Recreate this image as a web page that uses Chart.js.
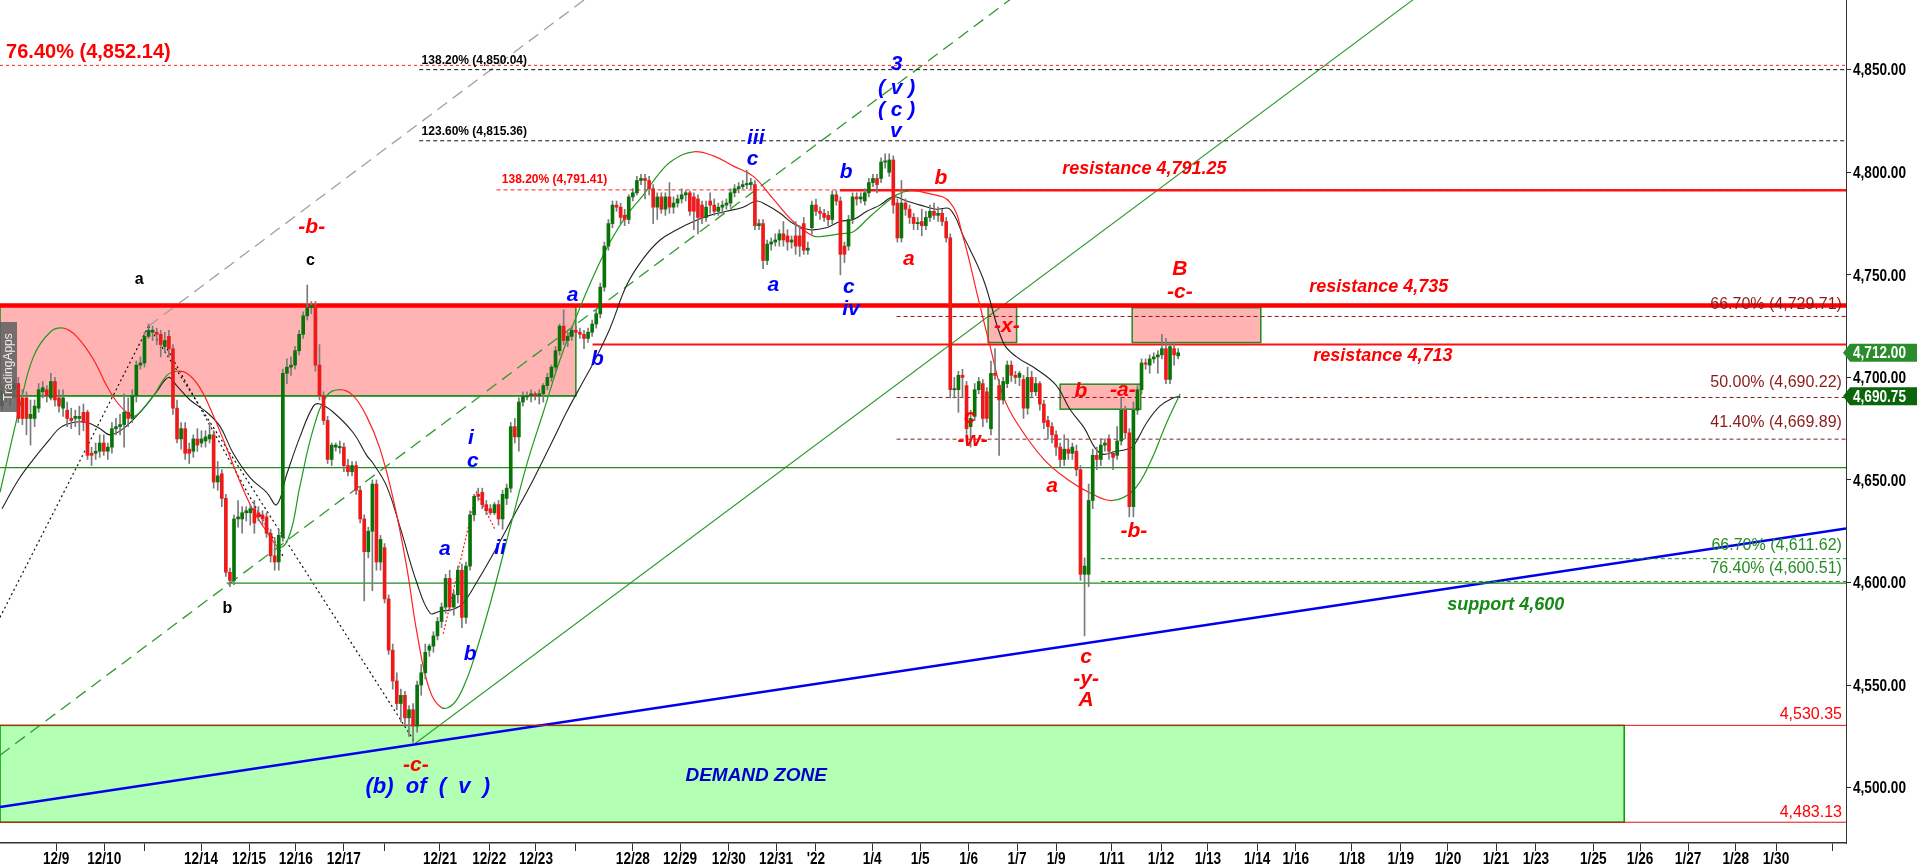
<!DOCTYPE html>
<html>
<head>
<meta charset="utf-8">
<script src="https://cdn.jsdelivr.net/npm/chart.js@4.4.1/dist/chart.umd.min.js"></script>
<style>
html, body { margin: 0; padding: 0; background: #fff; }
#wrap { width: 1917px; height: 864px; position: relative; }
</style>
</head>
<body>
<div id="wrap"><canvas id="chart"></canvas></div>
<script>
// ES 2h bars, index 0 = first bar at the left edge
const opens = [
 4686,4693,4691,4694,4697,4690,4690,4680,4680,4685, 4693,4694,4690,4698,4690,4685,4684,4680,4680,4680,
 4683,4683,4663,4663,4664,4668,4664,4666,4675,4676, 4677,4683,4680,4691,4706,4707,4720,4722,4722,4721,
 4715,4720,4714,4685,4670,4675,4665,4664,4670,4668, 4669,4670,4672,4649,4653,4641,4605,4601,4631,4631,
 4634,4634,4636,4634,4633,4632,4624,4613,4610,4622, 4702,4705,4706,4713,4721,4730,4734,4735,4706,4691,
 4679,4660,4666,4666,4666,4657,4654,4657,4645,4631, 4615,4625,4648,4610,4617,4592,4567,4552,4541,4545,
 4534,4538,4530,4550,4556,4567,4569,4574,4581,4588, 4602,4588,4594,4606,4583,4608,4633,4643,4644,4638,
 4636,4634,4638,4631,4641,4646,4676,4671,4688,4690.5, 4691,4692,4691,4692,4696,4700,4705,4713,4725,4718,
 4720,4723,4722,4721,4719,4722,4726,4731,4744,4764, 4775,4784,4783,4779,4777,4788,4790,4796,4797,4796,
 4792,4783,4788,4782,4788,4783,4785,4787,4789,4790, 4788,4787,4784,4778,4786,4784,4781,4783,4784,4785,
 4790,4792,4793,4794,4794,4794,4774,4775,4757,4765, 4766,4767,4770,4769,4766,4769,4769,4775,4762,4773,
 4784,4781,4780,4779,4777,4789,4786,4764,4764,4777, 4788,4787,4786,4790,4795,4797,4797,4805,4800,4806,
 4785,4768,4785,4782,4778,4775,4776,4774,4778,4781, 4779,4780,4776,4768,4694,4694,4701,4696,4676,4681,
 4694,4697,4693,4675,4702,4696,4689,4697,4706,4701, 4700,4699,4685,4700,4693,4697,4687,4679,4676,4672,
 4666,4660,4665,4663,4664,4655,4604,4604,4640,4662, 4660,4667,4670,4663,4662,4669,4684,4673,4637,4684,
 4694,4707,4706,4709,4710,4711,4714,4699,4714,4710.5
];
const highs = [
 4696,4698,4696,4699,4700,4694,4693,4689,4689,4697, 4698,4696,4702,4700,4694,4694,4688,4685,4684,4686,
 4687,4684,4666,4668,4672,4672,4668,4678,4680,4682, 4692,4690,4694,4708,4710,4722,4726,4725,4724,4723,
 4722,4723,4716,4689,4678,4678,4668,4672,4675,4674, 4674,4678,4674,4659,4655,4643,4607,4633,4640,4637,
 4637,4638,4640,4637,4635,4634,4626,4622,4626,4704, 4709,4710,4715,4723,4732,4745,4737,4737,4716,4693,
 4681,4668,4668,4669,4668,4660,4659,4659,4647,4633, 4627,4650,4650,4623,4619,4594,4570,4556,4548,4547,
 4540,4541,4552,4560,4570,4570,4576,4583,4590,4604, 4606,4596,4608,4609,4610,4635,4643,4646,4646,4640,
 4638,4639,4640,4645,4648,4678,4680,4690,4693,4693, 4694,4693,4694,4697,4702,4706,4715,4726,4733,4722,
 4725,4725,4724,4723,4724,4728,4733,4746,4766,4777, 4786,4786,4785,4782,4789,4792,4798,4799,4799,4798,
 4794,4790,4790,4790,4795,4788,4789,4792,4791,4791, 4790,4789,4786,4786,4790,4787,4785,4786,4787,4792,
 4794,4795,4796,4801,4797,4796,4777,4777,4767,4768, 4770,4772,4776,4772,4769,4776,4774,4778,4766,4786,
 4787,4783,4782,4781,4791,4791,4788,4766,4779,4790, 4790,4790,4792,4797,4799,4799,4807,4809,4809,4808,
 4787,4796,4787,4784,4780,4778,4782,4781,4784,4785, 4783,4782,4778,4770,4700,4703,4704,4698,4684,4697,
 4700,4699,4695,4708,4714,4699,4700,4708,4708,4703, 4703,4701,4705,4703,4700,4698,4689,4681,4678,4674,
 4668,4672,4670,4668,4667,4657,4612,4648,4665,4666, 4670,4670,4672,4664,4676,4690,4686,4675,4688,4696,
 4709,4709,4711,4712,4713,4721,4719,4717,4717,4714
];
const lows = [
 4684,4688,4686,4690,4678,4677,4672,4667,4676,4683, 4690,4688,4689,4686,4683,4681,4676,4675,4676,4672,
 4674,4660,4657,4660,4661,4662,4660,4663,4672,4672, 4666,4676,4678,4688,4704,4705,4719,4718,4716,4710,
 4712,4710,4682,4668,4665,4660,4658,4661,4664,4666, 4666,4668,4646,4645,4637,4603,4598,4599,4627,4624,
 4630,4628,4624,4630,4628,4622,4610,4606,4606,4620, 4697,4701,4704,4711,4719,4728,4731,4703,4689,4677,
 4658,4657,4664,4663,4654,4652,4652,4643,4629,4591, 4612,4596,4606,4606,4590,4565,4548,4538,4532,4530,
 4525,4522,4527,4545,4553,4564,4566,4572,4578,4585, 4586,4584,4590,4578,4580,4606,4630,4640,4636,4633,
 4633,4633,4628,4626,4638,4644,4668,4664,4686,4689, 4688,4689,4687,4688,4694,4698,4703,4711,4716,4715,
 4718,4720,4719,4714,4717,4720,4724,4729,4742,4762, 4773,4781,4775,4774,4775,4786,4789,4794,4787,4789,
 4775,4777,4780,4779,4780,4780,4783,4785,4786,4779, 4772,4770,4775,4776,4780,4779,4779,4780,4782,4783,
 4788,4790,4792,4792,4792,4772,4772,4753,4755,4762, 4764,4764,4764,4762,4763,4760,4759,4760,4760,4770,
 4779,4777,4776,4774,4775,4784,4750,4756,4762,4775, 4784,4785,4784,4788,4793,4790,4795,4802,4798,4780,
 4766,4766,4779,4775,4772,4772,4769,4772,4776,4777, 4776,4774,4766,4690,4690,4683,4690,4668,4666,4679,
 4692,4676,4678,4672,4699,4662,4687,4695,4698,4697, 4696,4680,4682,4690,4691,4684,4675,4670,4668,4662,
 4656,4657,4660,4660,4652,4601,4574,4598,4636,4655, 4657,4664,4660,4655,4660,4667,4670,4632,4632,4682,
 4692,4704,4702,4707,4702,4709,4697,4697,4706,4709
];
const closes = [
 4693,4691,4694,4697,4680,4680,4680,4682,4686,4694, 4695,4691,4698,4689,4686,4690,4680,4679,4681,4681,
 4678,4662,4662,4664,4668,4664,4666,4675,4676,4677, 4683,4680,4691,4706,4707,4720,4723,4723,4721,4716,
 4718,4714,4685,4670,4675,4663,4663,4670,4667,4670, 4671,4672,4649,4652,4641,4605,4601,4631,4632,4634,
 4635,4636,4629,4632,4631,4624,4613,4610,4623,4702, 4705,4706,4713,4721,4730,4734,4735,4706,4691,4679,
 4660,4667,4667,4666,4657,4654,4657,4645,4631,4615, 4625,4648,4610,4621,4592,4567,4552,4541,4545,4534,
 4538,4530,4550,4556,4566,4569,4574,4581,4588,4602, 4588,4594,4606,4583,4608,4633,4642,4642,4638,4635,
 4634,4638,4631,4643,4646,4676,4671,4688,4691,4691, 4692,4691,4692,4696,4700,4705,4713,4725,4718,4720,
 4723,4722,4721,4719,4722,4726,4731,4744,4764,4775, 4784,4783,4778,4777,4788,4790,4796,4797,4796,4792,
 4783,4788,4782,4788,4783,4785,4787,4789,4790,4781, 4781,4778,4778,4783,4784,4781,4783,4784,4785,4790,
 4792,4793,4794,4794.5,4795,4774,4775,4757,4765,4766, 4767,4770,4767,4766,4767,4764,4764,4762,4763,4784,
 4781,4780,4778,4777,4789,4786,4760,4760,4777,4788, 4787,4788,4790,4795,4797,4794,4805,4805.5,4806,4784,
 4768,4785,4782,4778,4775,4775.5,4774,4778,4781,4779, 4780,4776,4768,4694,4694.5,4701,4700,4675,4680,4694,
 4698,4680,4680,4702,4701,4689,4698,4706,4701,4700, 4702,4685,4700,4693,4697,4687,4678,4676,4672,4666,
 4660,4665,4663,4666,4655,4604,4608,4640,4662,4660, 4667,4668,4664,4661,4669,4684,4673,4637,4684,4694,
 4707,4706.5,4709,4710,4711,4714,4699,4715,4711,4712
];

// date ticks (bar index) and their labels
const tickPos = [13.3,25.1,35.1,48.9,60.7,72.2,84.0,94.1,107.6,119.7,131.2,141.0,155.0,166.6,178.6,190.2,
  200.0,213.8,225.6,237.5,249.4,259.0,272.7,284.8,296.3,308.4,317.9,331.7,343.7,355.3,367.1,376.9,391.0,
  402.5,414.3,426.0,435.9,449.9];
const tickLabels = ['12/9','12/10','','12/14','12/15','12/16','12/17','','12/21','12/22','12/23','','12/28',
  '12/29','12/30','12/31',"'22",'1/4','1/5','1/6','1/7','1/9','1/11','1/12','1/13','1/14','1/16','1/18',
  '1/19','1/20','1/21','1/23','1/25','1/26','1/27','1/28','1/30',''];
const priceTicks = [4500,4550,4600,4650,4700,4750,4800,4850];

// moving averages: [bar index, price]
const maColor = [[-0.5,4644],[4.4,4686],[7.7,4710],[11.8,4722],[15.1,4724],[18.3,4720],[22.4,4709],[25.7,4696],
  [28.2,4688],[30.6,4683],[32.3,4681],[33.9,4683],[37.2,4691],[40.5,4701],[42.9,4703],[45.4,4702],[48.6,4695],
  [52,4681],[55.5,4664],[58.5,4649],[61.5,4636],[65,4625],[68.3,4617],[70.8,4624],[73.2,4647],[76.5,4675],
  [79.8,4691],[83,4694],[86.3,4691],[89.6,4681],[92.9,4665],[96.2,4640],[99.4,4608],[102,4575],[105,4548],
  [108,4539],[111,4541],[114,4552],[116.6,4567],[120,4590],[125,4628],[129,4658],[133,4683],[137,4708],
  [141.2,4730],[145,4748],[149.4,4766],[153.5,4779],[157.6,4789],[161.7,4800],[164.9,4806],[169.9,4810],
  [174.8,4808],[179.7,4803],[184.6,4798],[189.5,4787],[194.4,4776],[199.3,4769],[202.6,4769],[205.9,4770],
  [209.2,4771],[212.5,4777],[216.5,4784],[219.8,4789],[223.1,4791],[227,4790],[232.9,4785.5],[236.2,4768],
  [239.5,4741.5],[242.8,4715],[246,4691],[249.3,4678],[256,4660],[262,4650],[268,4643],[273,4640],[278,4645],
  [282,4658],[286.2,4678],[289.5,4692]];
const maBlack = [[0,4636],[4,4650],[7.7,4660],[11.8,4670],[14.3,4675.5],[17.5,4678],[20.8,4678],[24.1,4675],
  [26.5,4672],[29.8,4675],[33.9,4683],[38,4693],[40.9,4700],[42.9,4696],[46.2,4689],[50.3,4683],[53.6,4676],
  [56.8,4663],[61,4651],[65,4644],[67.5,4638],[70,4653],[73.2,4671],[76.5,4686],[78.1,4687],[81.4,4683],
  [86.3,4673],[89.6,4662],[91.2,4658],[94.5,4647],[97.8,4627],[101.9,4600],[105.2,4585],[107.6,4586],
  [110.9,4587],[113.3,4590],[116.6,4600],[120.7,4614],[125.6,4632],[130.5,4650],[135.5,4670],[138.7,4683],
  [142.8,4698],[145.3,4707],[149.4,4724],[153.5,4745],[157.6,4758],[161.7,4767],[165.8,4772],[169.9,4776],
  [173.9,4779],[178,4781],[182.1,4783],[185.4,4786],[187.9,4784],[191.2,4780],[194.4,4775],[198.5,4772],
  [202.6,4773],[205.9,4776],[209.2,4777],[212.5,4781],[215.7,4784],[219,4788],[222.3,4786],[225.6,4784],
  [229.6,4782],[232.9,4782],[236.2,4769],[241.1,4748],[246,4717],[249.3,4710],[254.2,4704],[259.1,4696],
  [262.4,4684.5],[265.7,4676],[269.8,4663],[273.9,4664],[276.4,4665],[278,4666.5],[281.3,4678],[284.5,4686],
  [287.8,4690],[289.5,4690.75]];

const X_MIN = -0.5, X_MAX = 453.1, Y_MIN = 4473, Y_MAX = 4884;

// horizontal levels: [price, from bar, to bar, style]
const levels = [
  [4852.14, X_MIN, X_MAX, 'redDot'],
  [4850.04, 102.5, X_MAX, 'blackDash'],
  [4815.36, 102.5, X_MAX, 'blackDash'],
  [4791.41, 121.5, X_MAX, 'redDash'],
  [4791.25, 205.9, X_MAX, 'redSolid'],
  [4735, X_MIN, X_MAX, 'redThick'],
  [4729.71, 219.8, X_MAX, 'maroonDash'],
  [4716, 145.1, X_MAX, 'redMid'],
  [4690.22, 219.8, X_MAX, 'maroonDash'],
  [4669.89, 219.8, X_MAX, 'maroonDash'],
  [4691, X_MIN, 141, 'greenSolid'],
  [4656, X_MIN, X_MAX, 'greenSolid'],
  [4611.62, 270, X_MAX, 'greenDash'],
  [4600.51, 270, X_MAX, 'greenDash'],
  [4599.7, 55.2, X_MAX, 'greenSolid'],
  [4530.35, X_MIN, X_MAX, 'redThin'],
  [4483.13, X_MIN, X_MAX, 'redThin']
];
// trend lines: [[bar, price], ...], style
const trends = [
  [[[-0.5, 4490.5], [453.1, 4626.3]], 'blue'],
  [[[-0.5, 4515.8], [250, 4887.6]], 'greenLong'],
  [[[36, 4725], [150, 4894.4]], 'grayLong'],
  [[[101.5, 4521.5], [350, 4889]], 'channel'],
  [[[-0.5, 4583], [36, 4725]], 'blackDot'],
  [[[36, 4725], [101.5, 4522]], 'blackDot'],
  [[[40, 4716], [69, 4613]], 'blackDot'],
  [[[108.4, 4575], [116.6, 4644], [121.1, 4626]], 'redDotted']
];
// boxes: [from bar, to bar, top price, bottom price, style]
const zones = [
  [X_MIN, 398.6, 4530.35, 4483.13, 'demand'],
  [X_MIN, 141, 4735, 4691, 'pink'],
  [242.3, 249.3, 4734.2, 4717, 'pink'],
  [260, 279.8, 4696.7, 4684.5, 'pink'],
  [277.7, 309.3, 4734, 4717, 'pink']
];
// wave labels: [text, bar, price, style]
const waveLabels = [
  ['a', 33.7, 4747.6, 'blk'], ['c', 75.8, 4756.8, 'blk'], ['b', 55.4, 4587.5, 'blk'],
  ['-b-', 76.1, 4773.3, 'red'], ['-c-', 101.7, 4510.9, 'red'], ['(b)  of  (  v  )', 104.6, 4500.1, 'blueWide'],
  ['i', 115.2, 4670.6, 'blue'], ['c', 115.7, 4659.2, 'blue'], ['a', 108.8, 4616, 'blue'],
  ['b', 115, 4564.9, 'blue'], ['ii', 122.4, 4616.8, 'blue'], ['a', 140.2, 4739.9, 'blue'],
  ['b', 146.3, 4708.9, 'blue'], ['iii', 185.2, 4816.8, 'blue'], ['c', 184.4, 4806.2, 'blue'],
  ['a', 189.5, 4744.8, 'blue'], ['b', 207.4, 4799.9, 'blue'], ['c', 208.1, 4744, 'blue'],
  ['iv', 208.6, 4733.4, 'blue'], ['3', 219.8, 4852.7, 'blue'], ['( v )', 219.8, 4840.9, 'blue'],
  ['( c )', 219.8, 4830.4, 'blue'], ['v', 219.6, 4820.2, 'blue'],
  ['b', 230.7, 4797.3, 'red'], ['a', 222.8, 4757.5, 'red'], ['c', 237.8, 4680.4, 'red'],
  ['-w-', 238.5, 4669.6, 'red'], ['-x-', 246.9, 4725.2, 'red'], ['a', 258, 4646.8, 'red'],
  ['b', 265.1, 4693.4, 'red'], ['-a-', 275.4, 4693.9, 'red'], ['-b-', 278.1, 4624.8, 'red'],
  ['c', 266.4, 4563.7, 'red'], ['-y-', 266.4, 4552.9, 'red'], ['A', 266.4, 4542.7, 'red'],
  ['B', 289.4, 4752.6, 'red'], ['-c-', 289.4, 4741.7, 'red'],
  ['resistance 4,791.25', 280.7, 4801.8, 'res'], ['resistance 4,735', 338.3, 4744.1, 'res'],
  ['resistance 4,713', 339.3, 4710.5, 'res'], ['support 4,600', 369.5, 4589.1, 'sup'],
  ['DEMAND ZONE', 185.3, 4505.7, 'dz']
];
// level captions: [text, bar, price, align, style]
const levelLabels = [
  ['76.40% (4,852.14)', 1.0, 4858.6, 'left', 'fibBig'],
  ['138.20% (4,850.04)', 103.1, 4854.4, 'left', 'fibBlack'],
  ['123.60% (4,815.36)', 103.1, 4819.8, 'left', 'fibBlack'],
  ['138.20% (4,791.41)', 122.8, 4796.6, 'left', 'fibRed'],
  ['66.70% (4,729.71)', 452.1, 4735.6, 'right', 'fibMaroon'],
  ['50.00% (4,690.22)', 452.1, 4697.7, 'right', 'fibMaroon'],
  ['41.40% (4,669.89)', 452.1, 4678.1, 'right', 'fibMaroon'],
  ['66.70% (4,611.62)', 452.1, 4618.0, 'right', 'fibGreen'],
  ['76.40% (4,600.51)', 452.1, 4606.7, 'right', 'fibGreen'],
  ['4,530.35', 452.1, 4535.5, 'right', 'fibRedMid'],
  ['4,483.13', 452.1, 4487.9, 'right', 'fibRedMid']
];
// last price / MA value tags on the axis
const priceTags = [[4712.00, '#2b8c2b'], [4690.75, '#0b650b']];

const FONT = '"Liberation Sans", Arial, sans-serif';
Chart.defaults.font.family = FONT;
Chart.defaults.color = '#000';

const lineStyles = {
  redDot: ['#ff2020', 1, [3, 3]],
  blackDash: ['#111', 1, [4, 3]],
  redDash: ['#ff2020', 1, [4, 3]],
  redSolid: ['#ff1010', 2.5, []],
  redThick: ['#ff0000', 4.5, []],
  redMid: ['#ff1010', 2, []],
  maroonDash: ['#8b1a1a', 1, [4, 3]],
  greenSolid: ['#1e8c1e', 1.2, []],
  greenDash: ['#1e8c1e', 1, [4, 3]],
  redThin: ['#e01010', 1, []],
  blue: ['#0000ee', 2.5, []],
  greenLong: ['#2e9a2e', 1.3, [12, 7]],
  grayLong: ['#a0a0a0', 1.3, [12, 7]],
  channel: ['#2e9a2e', 1.1, []],
  blackDot: ['#111', 1.2, [2, 3]],
  redDotted: ['#ff2020', 1.2, [2, 2]]
};
const zoneStyles = { demand: ['#b3ffb3', '#009a00'], pink: ['#ffb3b3', '#1e8c1e'] };
const textStyles = {
  blk: ['bold 16px ' + FONT, '#000'],
  red: ['italic bold 21px ' + FONT, '#ff0000'],
  blue: ['italic bold 21px ' + FONT, '#0000ff'],
  blueWide: ['italic bold 22px ' + FONT, '#0000ff'],
  res: ['italic bold 18px ' + FONT, '#ff0000'],
  sup: ['italic bold 18px ' + FONT, '#148a14'],
  dz: ['italic bold 19px ' + FONT, '#0000cc'],
  fibBig: ['bold 20px ' + FONT, '#ff0000'],
  fibBlack: ['bold 12px ' + FONT, '#000'],
  fibRed: ['bold 12px ' + FONT, '#ff0000'],
  fibMaroon: ['16px ' + FONT, '#8b1a1a'],
  fibGreen: ['16px ' + FONT, '#238c23'],
  fibRedMid: ['16px ' + FONT, '#ff0000']
};

function lineSet(points, style, order) {
  const [color, width, dash] = lineStyles[style];
  return {
    type: 'line', data: points.map(([x, y]) => ({ x, y })), borderColor: color, borderWidth: width,
    borderDash: dash, pointRadius: 0, tension: 0, order: order
  };
}

// bold axis text squeezed horizontally, like the narrow face of the original
function squeezedText(ctx, text, x, y, size, sx, align, baseline, color) {
  ctx.save();
  ctx.translate(x, y); ctx.scale(sx, 1);
  ctx.font = 'bold ' + size + 'px ' + FONT; ctx.fillStyle = color;
  ctx.textAlign = align; ctx.textBaseline = baseline;
  ctx.fillText(text, 0, 0);
  ctx.restore();
}
const fmt = v => v.toLocaleString('en-US', { minimumFractionDigits: 2, maximumFractionDigits: 2 });

const idx = closes.map((_, i) => i);
const wickData = idx.map(i => ({ x: i, y: [lows[i], highs[i]] }));
const bodyData = idx.map(i => {
  let lo = Math.min(opens[i], closes[i]), hi = Math.max(opens[i], closes[i]);
  if (hi - lo < 0.6) { const m = (hi + lo) / 2; lo = m - 0.3; hi = m + 0.3; }
  return { x: i, y: [lo, hi] };
});
const candleColor = ctx => closes[ctx.dataIndex] >= opens[ctx.dataIndex] ? '#087408' : '#ee1a1a';

const datasets = [
  { type: 'bar', data: bodyData, backgroundColor: candleColor, barThickness: 3, grouped: false, borderWidth: 0, order: 0 },
  { type: 'bar', data: wickData, backgroundColor: '#7a7a7a', barThickness: 1, grouped: false, borderWidth: 0, order: 1 },
  {
    type: 'line', data: maColor.map(([x, y]) => ({ x, y })), borderWidth: 1.2, pointRadius: 0, tension: 0.4,
    borderColor: '#ff2020',
    segment: { borderColor: c => c.p1.parsed.y >= c.p0.parsed.y ? '#1f9a1f' : '#ff2020' }, order: 2
  },
  { type: 'line', data: maBlack.map(([x, y]) => ({ x, y })), borderColor: '#222', borderWidth: 1.1, pointRadius: 0, tension: 0.4, order: 2 }
];
levels.forEach(([v, x0, x1, st]) => datasets.push(lineSet([[x0, v], [x1, v]], st, 3)));
trends.forEach(([pts, st]) => datasets.push(lineSet(pts, st, 3)));

const zonePlugin = {
  id: 'zones',
  beforeDatasetsDraw(chart) {
    const { ctx, chartArea: a, scales: { x, y } } = chart;
    ctx.save();
    ctx.beginPath(); ctx.rect(a.left, a.top, a.width, a.height); ctx.clip();
    zones.forEach(([x0, x1, top, bot, st]) => {
      const [fill, stroke] = zoneStyles[st];
      const px0 = x.getPixelForValue(x0), px1 = x.getPixelForValue(x1);
      const py0 = y.getPixelForValue(top), py1 = y.getPixelForValue(bot);
      ctx.fillStyle = fill; ctx.fillRect(px0, py0, px1 - px0, py1 - py0);
      ctx.strokeStyle = stroke; ctx.lineWidth = 1.5; ctx.strokeRect(px0, py0, px1 - px0, py1 - py0);
    });
    ctx.restore();
  }
};

const textPlugin = {
  id: 'notes',
  afterDatasetsDraw(chart) {
    const { ctx, scales: { x, y } } = chart;
    ctx.save();
    ctx.textBaseline = 'middle';
    waveLabels.forEach(([t, xi, v, st]) => {
      ctx.font = textStyles[st][0]; ctx.fillStyle = textStyles[st][1]; ctx.textAlign = 'center';
      ctx.fillText(t, x.getPixelForValue(xi), y.getPixelForValue(v));
    });
    levelLabels.forEach(([t, xi, v, al, st]) => {
      ctx.font = textStyles[st][0]; ctx.fillStyle = textStyles[st][1]; ctx.textAlign = al;
      ctx.fillText(t, x.getPixelForValue(xi), y.getPixelForValue(v));
    });
    ctx.restore();
  },
  afterDraw(chart) {
    const { ctx, chartArea: a, scales: { x, y } } = chart;
    // axis labels
    priceTicks.forEach(v => squeezedText(ctx, fmt(v), a.right + 7, y.getPixelForValue(v) + 1, 17, 0.8, 'left', 'middle', '#000'));
    tickPos.forEach((p, i) => {
      if (tickLabels[i]) squeezedText(ctx, tickLabels[i], x.getPixelForValue(p), a.bottom + 9, 16, 0.85, 'center', 'top', '#000');
    });
    ctx.save();
    // price tags on the right axis
    priceTags.forEach(([v, col]) => {
      const py = y.getPixelForValue(v), l = a.right - 3;
      ctx.beginPath();
      ctx.moveTo(l, py); ctx.lineTo(l + 7, py - 9); ctx.lineTo(chart.width, py - 9);
      ctx.lineTo(chart.width, py + 9); ctx.lineTo(l + 7, py + 9); ctx.closePath();
      ctx.fillStyle = col; ctx.fill();
      squeezedText(ctx, fmt(v), a.right + 7, py + 1, 17, 0.8, 'left', 'middle', '#fff');
    });
    // watermark tab
    ctx.fillStyle = 'rgba(95,95,95,0.85)';
    ctx.fillRect(0, 322, 17, 90);
    ctx.translate(9, 367); ctx.rotate(-Math.PI / 2);
    ctx.font = '12px ' + FONT; ctx.fillStyle = '#eee'; ctx.textAlign = 'center'; ctx.textBaseline = 'middle';
    ctx.fillText('TradingApps', 0, 0);
    ctx.restore();
  }
};

new Chart(document.getElementById('chart'), {
  type: 'bar',
  data: { datasets },
  options: {
    responsive: true, maintainAspectRatio: false, animation: false, events: [],
    layout: { padding: 0 },
    plugins: { legend: { display: false }, tooltip: { enabled: false } },
    scales: {
      x: {
        type: 'linear', min: X_MIN, max: X_MAX, offset: false,
        grid: { display: true, drawOnChartArea: false, drawTicks: true, tickLength: 8, color: '#333', offset: false },
        border: { display: true, color: '#333', width: 1.5 },
        afterBuildTicks: s => { s.ticks = tickPos.map(v => ({ value: v })); },
        ticks: { display: false, autoSkip: false, maxRotation: 0 },
        afterFit: s => { s.height = 21; s.paddingLeft = 0; s.paddingRight = 0; }
      },
      y: {
        position: 'right', min: Y_MIN, max: Y_MAX, beginAtZero: false,
        grid: { drawOnChartArea: false, tickLength: 5, color: '#222' },
        border: { display: true, color: '#333', width: 1 },
        afterBuildTicks: s => { s.ticks = priceTicks.map(v => ({ value: v })); },
        ticks: { display: false },
        afterFit: s => { s.width = 71; s.paddingTop = 0; s.paddingBottom = 0; }
      }
    }
  },
  plugins: [zonePlugin, textPlugin]
});
</script>
</body>
</html>
